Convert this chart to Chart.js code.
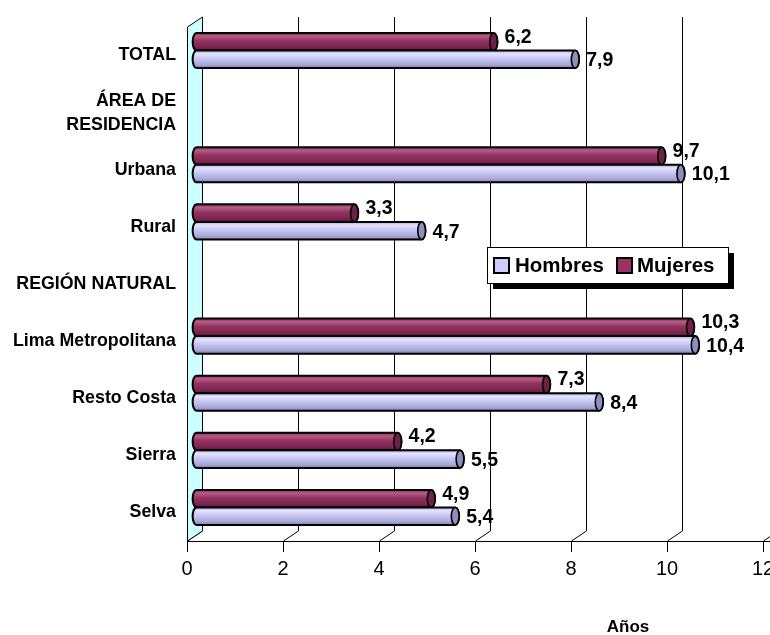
<!DOCTYPE html>
<html><head><meta charset="utf-8">
<script src="https://cdn.jsdelivr.net/npm/chart.js@4.4.1/dist/chart.umd.min.js"></script>
<style>html,body{margin:0;padding:0;background:#fff;overflow:hidden}#wrap{width:770px;height:635px}</style>
</head><body><div id="wrap"><canvas id="c" width="770" height="635"></canvas></div>
<script>
const categories = ['TOTAL', ['ÁREA DE', 'RESIDENCIA'], 'Urbana', 'Rural', 'REGIÓN NATURAL', 'Lima Metropolitana', 'Resto Costa', 'Sierra', 'Selva'];
const hombres = [7.9, null, 10.1, 4.7, null, 10.4, 8.4, 5.5, 5.4];
const mujeres = [6.2, null, 9.7, 3.3, null, 10.3, 7.3, 4.2, 4.9];
const xTicks = [0, 2, 4, 6, 8, 10, 12];
const seriesNames = ['Hombres', 'Mujeres'];
const xTitle = 'Años';

const FONT = '"Liberation Sans", Arial, sans-serif';
Chart.defaults.font.family = FONT;
Chart.defaults.color = '#000';

const STYLE = {
  Hombres: { swatch: '#CCCCFF', stops: [[0, '#A6A6D6'], [0.18, '#E4E4FF'], [0.45, '#C8C8F4'], [0.8, '#A9A9D9'], [1, '#8080B0']], face: '#8E8EBE', dy: 1.5 },
  Mujeres: { swatch: '#993366', stops: [[0, '#842A57'], [0.18, '#B65C88'], [0.45, '#93335F'], [0.8, '#7C2550'], [1, '#5E163A']], face: '#6E2148', dy: -4.5 }
};
const DEPTH_X = 15, DEPTH_Y = -10, BAR_DX = 9, BAR_DY = -5;

const plugin3d = {
  id: 'plugin3d',
  beforeDatasetsDraw(chart) {
    const ctx = chart.ctx, a = chart.chartArea, xs = chart.scales.x;
    ctx.save();
    ctx.strokeStyle = '#000'; ctx.lineWidth = 1;
    xTicks.forEach(v => {
      const xf = Math.round(xs.getPixelForValue(v)) + 0.5;
      ctx.beginPath();
      ctx.moveTo(xf, a.bottom);
      ctx.lineTo(xf + DEPTH_X, a.bottom + DEPTH_Y);
      if (v !== 0) ctx.lineTo(xf + DEPTH_X, a.top + DEPTH_Y);
      ctx.stroke();
    });
    const x0 = Math.round(xs.getPixelForValue(0)) + 0.5;
    ctx.beginPath();
    ctx.moveTo(x0, a.top);
    ctx.lineTo(x0 + DEPTH_X, a.top + DEPTH_Y);
    ctx.lineTo(x0 + DEPTH_X, a.bottom + DEPTH_Y);
    ctx.lineTo(x0, a.bottom);
    ctx.closePath();
    ctx.fillStyle = '#CCFFFF'; ctx.fill();
    ctx.strokeStyle = '#000'; ctx.stroke();
    ctx.beginPath();
    ctx.moveTo(a.right, Math.round(a.bottom) + 0.5);
    ctx.lineTo(chart.width, Math.round(a.bottom) + 0.5);
    ctx.stroke();
    ctx.restore();
    ctx.save();
    ctx.translate(BAR_DX, BAR_DY);
  },
  afterDatasetsDraw(chart) {
    const ctx = chart.ctx;
    chart.data.datasets.forEach((ds, di) => {
      const st = STYLE[ds.label];
      const meta = chart.getDatasetMeta(di);
      meta.data.forEach((el, i) => {
        const v = ds.data[i];
        if (v === null || v === undefined) return;
        const p = el.getProps(['x', 'y', 'base', 'height'], true);
        const h = p.height, top = p.y - h / 2, bot = p.y + h / 2, rx = Math.max(3, h * 0.22);
        const g = ctx.createLinearGradient(0, top, 0, bot);
        st.stops.forEach(s => g.addColorStop(s[0], s[1]));
        ctx.beginPath();
        ctx.moveTo(p.base, top);
        ctx.lineTo(p.x, top);
        ctx.ellipse(p.x, p.y, rx, h / 2, 0, -Math.PI / 2, Math.PI / 2, false);
        ctx.lineTo(p.base, bot);
        ctx.ellipse(p.base, p.y, rx, h / 2, 0, Math.PI / 2, Math.PI * 1.5, false);
        ctx.closePath();
        ctx.fillStyle = g; ctx.fill();
        ctx.lineWidth = 2; ctx.strokeStyle = '#000'; ctx.stroke();
        ctx.beginPath();
        ctx.ellipse(p.x, p.y, rx, h / 2, 0, 0, Math.PI * 2);
        ctx.fillStyle = st.face; ctx.fill();
        ctx.lineWidth = 1.6; ctx.stroke();
        ctx.font = 'bold 19.5px ' + FONT;
        ctx.fillStyle = '#000'; ctx.textAlign = 'left'; ctx.textBaseline = 'middle';
        ctx.fillText(String(v).replace('.', ','), p.x + 11, p.y + st.dy);
      });
    });
    ctx.restore();
  },
  afterDraw(chart) {
    const ctx = chart.ctx;
    ctx.save();
    // axis title
    ctx.font = 'bold 17px ' + FONT; ctx.fillStyle = '#000';
    ctx.textAlign = 'center'; ctx.textBaseline = 'middle';
    ctx.fillText(xTitle, 628, 627);
    // legend
    const bx = 487, by = 247, bw = 241, bh = 36;
    ctx.fillStyle = '#000'; ctx.fillRect(bx + 6, by + 6, bw, bh);
    ctx.fillStyle = '#fff'; ctx.fillRect(bx, by, bw, bh);
    ctx.strokeStyle = '#000'; ctx.lineWidth = 1; ctx.strokeRect(bx + 0.5, by + 0.5, bw, bh);
    const order = seriesNames.map(n => chart.data.datasets.find(d => d.label === n));
    const pos = [[494, 515], [617, 637]];
    ctx.font = 'bold 20.5px ' + FONT; ctx.textBaseline = 'middle'; ctx.textAlign = 'left';
    order.forEach((ds, k) => {
      const st = STYLE[ds.label];
      ctx.fillStyle = st.swatch; ctx.fillRect(pos[k][0], by + 11, 15, 15);
      ctx.lineWidth = 2; ctx.strokeStyle = '#000'; ctx.strokeRect(pos[k][0], by + 11, 15, 15);
      ctx.fillStyle = '#000'; ctx.fillText(ds.label, pos[k][1], by + 19);
    });
    ctx.restore();
  }
};

new Chart(document.getElementById('c'), {
  type: 'bar',
  data: {
    labels: categories,
    datasets: [
      { label: seriesNames[1], data: mujeres, backgroundColor: STYLE.Mujeres.swatch, borderWidth: 0 },
      { label: seriesNames[0], data: hombres, backgroundColor: STYLE.Hombres.swatch, borderWidth: 0 }
    ]
  },
  options: {
    indexAxis: 'y',
    responsive: false,
    animation: false,
    devicePixelRatio: 1,
    categoryPercentage: 0.615,
    barPercentage: 1,
    layout: { padding: { top: 27, right: 7, left: 0, bottom: 0 } },
    plugins: { legend: { display: false }, tooltip: { enabled: false } },
    scales: {
      x: {
        type: 'linear', min: 0, max: 12,
        afterBuildTicks: s => { s.ticks = xTicks.map(v => ({ value: v })); },
        afterFit: s => { s.height = 94; s.paddingLeft = 0; s.paddingRight = 0; },
        ticks: { font: { size: 20 }, color: '#000', padding: 5, maxRotation: 0, autoSkip: false },
        grid: { display: true, drawOnChartArea: false, drawTicks: true, tickLength: 11, color: '#000', lineWidth: 1 },
        border: { display: true, color: '#000', width: 1 },
        title: { display: false }
      },
      y: {
        type: 'category',
        afterFit: s => { s.width = 187; },
        ticks: { font: { size: 17.8, weight: 'bold', lineHeight: 1.35 }, color: '#000', padding: 11, autoSkip: false },
        grid: { display: false, drawTicks: false },
        border: { display: false }
      }
    }
  },
  plugins: [plugin3d]
});
</script>
</body></html>
